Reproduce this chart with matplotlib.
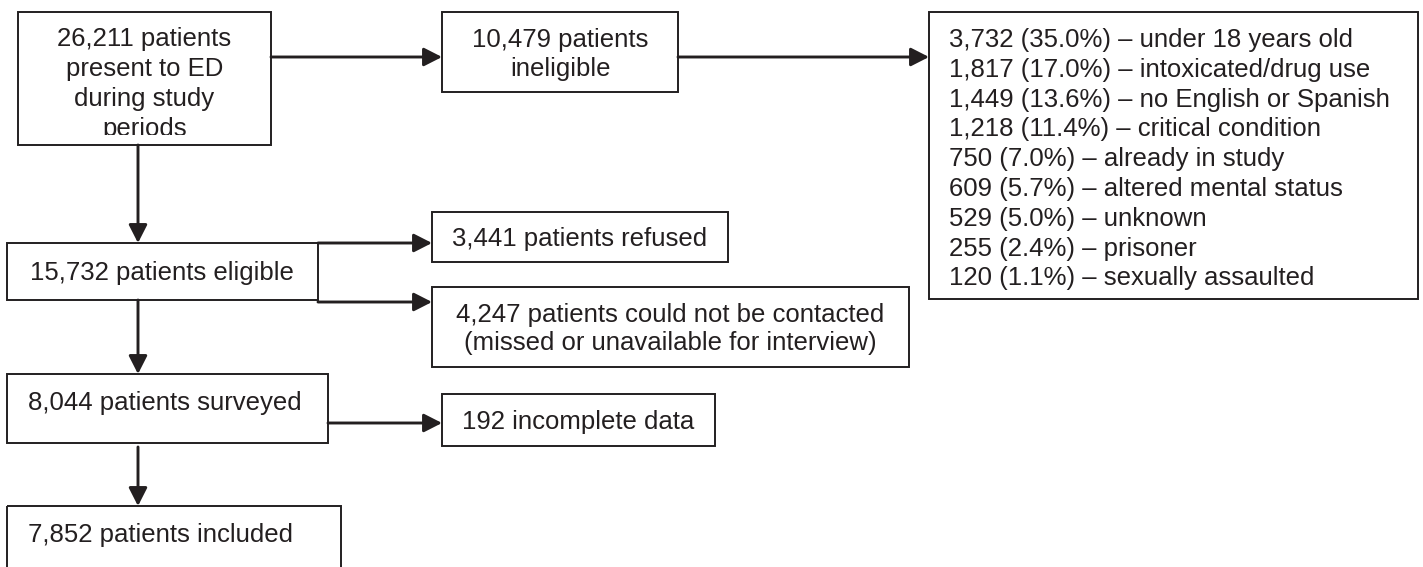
import matplotlib.pyplot as plt
from matplotlib.patches import Rectangle
from matplotlib.transforms import Bbox, TransformedBbox

plt.rcParams['font.family'] = ['Liberation Sans', 'DejaVu Sans']

# dane z diagramu
n_present = 26211
n_ineligible = 10479
n_eligible = 15732
n_refused = 3441
n_not_contacted = 4247
n_surveyed = 8044
n_incomplete = 192
n_included = 7852

reason_counts = [3732, 1817, 1449, 1218, 750, 609, 529, 255, 120]
reason_pcts = [35.0, 17.0, 13.6, 11.4, 7.0, 5.7, 5.0, 2.4, 1.1]
reason_names = ['under 18 years old', 'intoxicated/drug use',
                'no English or Spanish', 'critical condition',
                'already in study', 'altered mental status', 'unknown',
                'prisoner', 'sexually assaulted']

ink = '#231f20'
fs = 18.5

fig = plt.figure(figsize=(14.23, 5.67), dpi=100)
ax = fig.add_axes([0, 0, 1, 1])
ax.set_xlim(0, 1423)
ax.set_ylim(567, 0)
ax.axis('off')


def box(x0, y0, x1, y1):
    ax.add_patch(Rectangle((x0, y0), x1 - x0, y1 - y0, fill=False,
                           edgecolor=ink, lw=1.4, joinstyle='miter'))


def lines(x, y, step, txt, ha='center', clip=None):
    for i, s in enumerate(txt):
        t = ax.text(x, y + i * step, s, ha=ha, va='baseline',
                    fontsize=fs, color=ink)
        if clip is not None:
            # tekst ucięty dolną krawędzią jak w oryginale
            t.set_clip_box(TransformedBbox(Bbox.from_extents(*clip),
                                           ax.transData))
            t.set_clip_on(True)


def arrow(p0, p1):
    ax.annotate('', xy=p1, xytext=p0,
                arrowprops=dict(arrowstyle='-|>,head_length=0.55,head_width=0.28',
                                mutation_scale=20, lw=2.1, color=ink,
                                shrinkA=0, shrinkB=0))


# pudełka
box(18, 12, 271, 145)
lines(144.5, 46, 30, [f'{n_present:,} patients', 'present to ED',
                      'during study', 'periods'], clip=(18, 12, 271, 135))

box(442, 12, 678, 92)
lines(560, 47, 29, [f'{n_ineligible:,} patients', 'ineligible'])

box(929, 12, 1418, 299)
reasons = [f'{c:,} ({p:.1f}%) \u2013 {r}'
           for c, p, r in zip(reason_counts, reason_pcts, reason_names)]
lines(949, 47, 29.8, reasons, ha='left')

box(7, 243, 318, 300)
lines(30, 280, 0, [f'{n_eligible:,} patients eligible'], ha='left')

box(432, 212, 728, 262)
lines(580, 246, 0, [f'{n_refused:,} patients refused'])

box(432, 287, 909, 367)
lines(670.5, 322, 28, [f'{n_not_contacted:,} patients could not be contacted',
                       '(missed or unavailable for interview)'])

box(7, 374, 328, 443)
lines(28, 410, 0, [f'{n_surveyed:,} patients surveyed'], ha='left')

box(442, 394, 715, 446)
lines(578.5, 429, 0, [f'{n_incomplete} incomplete data'])

box(7, 506, 341, 620)
lines(28, 542, 0, [f'{n_included:,} patients included'], ha='left')

# strzałki
arrow((271, 57), (442, 57))
arrow((678, 57), (929, 57))
arrow((138, 145), (138, 243))
arrow((318, 243), (432, 243))
arrow((318, 302), (432, 302))
arrow((138, 300), (138, 374))
arrow((328, 423), (442, 423))
arrow((138, 447), (138, 506))

fig.savefig('out.png', dpi=100)
